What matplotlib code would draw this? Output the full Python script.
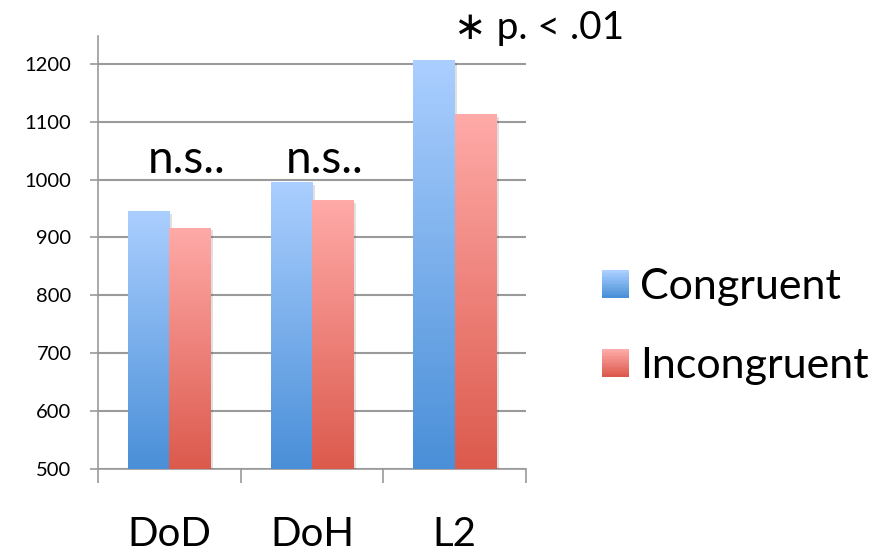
import numpy as np
import matplotlib
matplotlib.use("Agg")
import matplotlib.pyplot as plt
import matplotlib.patheffects as pe
from matplotlib.patches import Rectangle
from matplotlib.legend_handler import HandlerBase
from matplotlib.colors import LinearSegmentedColormap

plt.rcParams['font.family'] = ['Lato', 'DejaVu Sans']

# Mean reaction times per condition
conditions = ["DoD", "DoH", "L2"]
congruent = [946, 996, 1207]
incongruent = [917, 965, 1113]
series_names = ["Congruent", "Incongruent"]
notes = ["n.s..", "n.s..", "\u2217 p. < .01"]

# gradient ends (top, bottom) for each series
blue = ("#abcfff", "#4a8fd8")
red = ("#ffaaa8", "#dc5a4d")


def gradient_bar(ax, bar, colors):
    cmap = LinearSegmentedColormap.from_list("g", [colors[1], colors[0]])
    x0, y0 = bar.get_x(), bar.get_y()
    w, h = bar.get_width(), bar.get_height()
    grad = np.linspace(0, 1, 256).reshape(-1, 1)
    im = ax.imshow(grad, cmap=cmap, origin="lower", aspect="auto",
                   extent=(x0, x0 + w, y0, y0 + h), zorder=3)
    im.set_clip_path(bar)
    bar.set_facecolor("none")


class GradientHandler(HandlerBase):
    def __init__(self, colors):
        super().__init__()
        self.colors = colors

    def create_artists(self, legend, orig_handle, xdescent, ydescent,
                       width, height, fontsize, trans):
        cmap = LinearSegmentedColormap.from_list("g", [self.colors[1], self.colors[0]])
        n = 20
        size = height * 0.93
        x = -xdescent + (width - size) / 2
        y = -ydescent + (height - size) / 2
        arts = []
        for i in range(n):
            r = Rectangle((x, y + size * i / n), size, size / n + 0.3,
                          facecolor=cmap(i / (n - 1)), edgecolor="none",
                          transform=trans)
            arts.append(r)
        return arts


fig = plt.figure(figsize=(8.86, 5.53), dpi=100)
ax = fig.add_axes([0.1106, 0.1519, 0.4831, 0.783])

x = np.arange(len(conditions))
bw = 0.29
shadow = [pe.SimplePatchShadow(offset=(2, -2), shadow_rgbFace="k", alpha=0.12), pe.Normal()]
bars_c = ax.bar(x - bw / 2, np.array(congruent) - 500, bw, bottom=500, zorder=3,
                color=blue[0], path_effects=shadow)
bars_i = ax.bar(x + bw / 2, np.array(incongruent) - 500, bw, bottom=500, zorder=3,
                color=red[0], path_effects=shadow)
for b in bars_c:
    gradient_bar(ax, b, blue)
for b in bars_i:
    gradient_bar(ax, b, red)

ax.set_xlim(-0.5, 2.5)
ax.set_ylim(500, 1248)
ax.set_yticks(range(500, 1201, 100))
ax.set_xticks(x)
ax.set_xticklabels(conditions, fontsize=29)
ax.set_xticks([-0.5, 0.5, 1.5, 2.5], minor=True)
ax.tick_params(axis="x", which="major", length=0, pad=34)
ax.tick_params(axis="x", which="minor", length=10, width=1.2, color="#9a9a9a")
ax.tick_params(axis="y", length=6, width=1.2, color="#9a9a9a", labelsize=14.5, pad=13)
ax.yaxis.grid(True, color="#9a9a9a", linewidth=1.5, zorder=1)
ax.set_axisbelow(True)
for s in ["top", "right"]:
    ax.spines[s].set_visible(False)
for s in ["left", "bottom"]:
    ax.spines[s].set_color("#9a9a9a")
    ax.spines[s].set_linewidth(1.2)

# significance notes above each group
ax.text(0.12, 1012, notes[0], ha="center", va="baseline", fontsize=33)
ax.text(1.09, 1012, notes[1], ha="center", va="baseline", fontsize=33)
ax.text(2.59, 1243, notes[2], ha="center", va="baseline", fontsize=28, clip_on=False)

h1 = Rectangle((0, 0), 1, 1)
h2 = Rectangle((0, 0), 1, 1)
ax.legend([h1, h2], series_names, loc="center left", bbox_to_anchor=(1.175, 0.329),
          frameon=False, fontsize=31, labelspacing=0.95, handlelength=0.68,
          handleheight=0.68, handletextpad=0.22, borderpad=0, borderaxespad=0,
          handler_map={h1: GradientHandler(blue), h2: GradientHandler(red)})

fig.savefig("out.png", dpi=100)
